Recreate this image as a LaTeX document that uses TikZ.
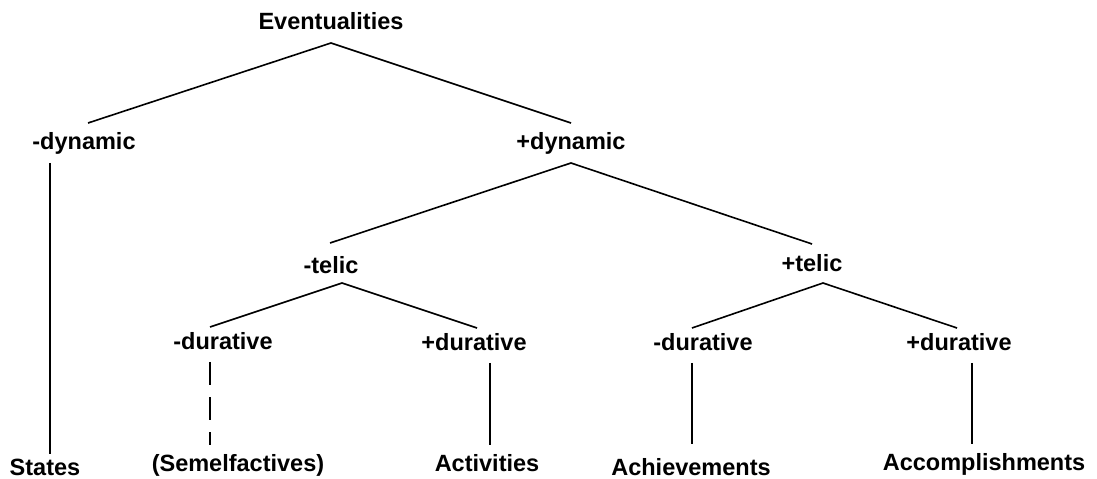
\documentclass[tikz,border=0pt]{standalone}
\usepackage{fontspec}
\setmainfont{Liberation Sans}
\begin{document}
\begin{tikzpicture}[x=1bp,y=-1bp,
  lbl/.style={anchor=base,inner sep=0pt,font=\fontsize{23.5bp}{28bp}\selectfont\bfseries},
  branch/.style={line width=1.6bp,line cap=butt},
  dashbranch/.style={branch,line width=1.9bp,dash pattern=on 23bp off 12bp}]
\useasboundingbox (0,0) rectangle (1097,479);

% labels (positioned by baseline)
\node[lbl] (ev)  at (331,30)  {Eventualities};
\node[lbl] (dm)  at (84,150)  {-dynamic};
\node[lbl] (dp)  at (571,150) {+dynamic};
\node[lbl] (tm)  at (331,274) {-telic};
\node[lbl] (tp)  at (812,272) {+telic};
\node[lbl] (d1)  at (223,350) {-durative};
\node[lbl] (d2)  at (474,351) {+durative};
\node[lbl] (d3)  at (703,351) {-durative};
\node[lbl] (d4)  at (959,351) {+durative};
\node[lbl] (st)  at (45,475)  {States};
\node[lbl] (sem) at (238,471) {(Semelfactives)};
\node[lbl] (act) at (487,471) {Activities};
\node[lbl] (ach) at (691,475) {Achievements};
\node[lbl] (acc) at (984,470) {Accomplishments};

% branch end points
\coordinate (evB) at (331,43);
\coordinate (dmT) at (88,123);
\coordinate (dpT) at (571,123);
\coordinate (dmB) at (50,163);
\coordinate (stT) at (50,454);
\coordinate (dpB) at (571,163);
\coordinate (tmT) at (330,243);
\coordinate (tpT) at (812,244);
\coordinate (tmB) at (342,283);
\coordinate (tpB) at (823,283);
\coordinate (d1T) at (210,327);
\coordinate (d2T) at (477,328);
\coordinate (d3T) at (692,328);
\coordinate (d4T) at (957,328);
\coordinate (d1B) at (210,362);
\coordinate (semT) at (210,445);
\coordinate (d2B) at (490,363);
\coordinate (actT) at (490,445);
\coordinate (d3B) at (692,363);
\coordinate (achT) at (692,444);
\coordinate (d4B) at (972,363);
\coordinate (accT) at (972,444);

% tree branches
\draw[branch] (dmT) -- (evB) -- (dpT);
\draw[branch] (dmB) -- (stT);
\draw[branch] (tmT) -- (dpB) -- (tpT);
\draw[branch] (d1T) -- (tmB) -- (d2T);
\draw[branch] (d3T) -- (tpB) -- (d4T);
\draw[dashbranch] (d1B) -- (semT);
\draw[branch] (d2B) -- (actT);
\draw[branch] (d3B) -- (achT);
\draw[branch] (d4B) -- (accT);
\end{tikzpicture}
\end{document}
